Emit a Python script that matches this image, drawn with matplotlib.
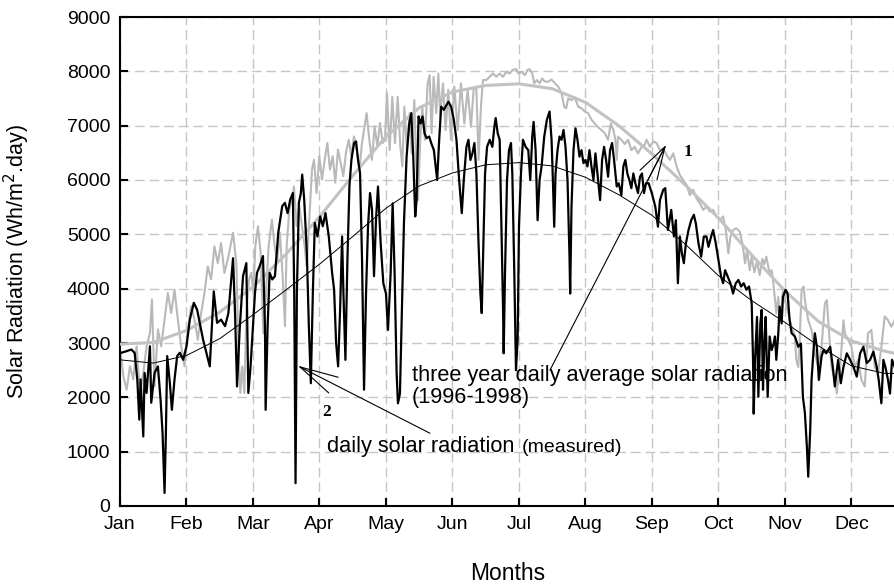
import matplotlib
matplotlib.use("Agg")
import matplotlib.pyplot as plt

plt.rcParams['font.family'] = ['Liberation Sans', 'DejaVu Sans']

months = ["Jan", "Feb", "Mar", "Apr", "May", "Jun",
          "Jul", "Aug", "Sep", "Oct", "Nov", "Dec"]

# daily solar radiation, measured (position in months from 1 Jan, Wh/m2.day)
measured_pos = [
    0.02, 0.10, 0.17, 0.22, 0.26, 0.29, 0.31, 0.35, 0.37, 0.40, 0.45, 0.47, 0.52, 0.57, 0.61, 0.64,
    0.67, 0.69, 0.71, 0.75, 0.78, 0.82, 0.86, 0.90, 0.95, 1.00, 1.05, 1.11, 1.16, 1.25, 1.35, 1.41,
    1.46, 1.52, 1.58, 1.63, 1.70, 1.73, 1.76, 1.80, 1.85, 1.90, 1.93, 1.96, 2.00, 2.03, 2.06, 2.10,
    2.15, 2.18, 2.19, 2.22, 2.25, 2.29, 2.33, 2.38, 2.44, 2.48, 2.52, 2.56, 2.60, 2.62, 2.64, 2.66,
    2.69, 2.72, 2.74, 2.77, 2.81, 2.84, 2.87, 2.90, 2.93, 2.97, 3.01, 3.05, 3.09, 3.14, 3.19, 3.22,
    3.25, 3.28, 3.31, 3.34, 3.36, 3.39, 3.42, 3.45, 3.48, 3.52, 3.55, 3.58, 3.61, 3.64, 3.67, 3.70,
    3.73, 3.76, 3.79, 3.82, 3.85, 3.88, 3.92, 3.96, 4.00, 4.03, 4.07, 4.10, 4.13, 4.16, 4.18, 4.21,
    4.24, 4.27, 4.31, 4.35, 4.38, 4.41, 4.44, 4.46, 4.49, 4.52, 4.55, 4.58, 4.61, 4.65, 4.68, 4.72,
    4.77, 4.80, 4.83, 4.87, 4.91, 4.94, 4.98, 5.02, 5.06, 5.10, 5.14, 5.17, 5.21, 5.24, 5.27, 5.30,
    5.33, 5.36, 5.39, 5.42, 5.44, 5.46, 5.49, 5.52, 5.56, 5.60, 5.63, 5.65, 5.68, 5.71, 5.73, 5.76,
    5.77, 5.79, 5.82, 5.85, 5.88, 5.90, 5.93, 5.955, 5.98, 6.00, 6.03, 6.06, 6.10, 6.14, 6.17, 6.20,
    6.22, 6.25, 6.28, 6.31, 6.34, 6.38, 6.42, 6.46, 6.49, 6.51, 6.53, 6.55, 6.58, 6.61, 6.64, 6.67,
    6.70, 6.73, 6.76, 6.77, 6.79, 6.82, 6.85, 6.88, 6.91, 6.94, 6.97, 7.00, 7.03, 7.06, 7.09, 7.12,
    7.15, 7.19, 7.22, 7.25, 7.28, 7.31, 7.34, 7.37, 7.40, 7.43, 7.47, 7.50, 7.54, 7.57, 7.60, 7.63,
    7.66, 7.69, 7.72, 7.75, 7.79, 7.82, 7.85, 7.88, 7.91, 7.95, 8.00, 8.05, 8.09, 8.12, 8.17, 8.20,
    8.24, 8.29, 8.33, 8.36, 8.39, 8.42, 8.45, 8.48, 8.51, 8.55, 8.59, 8.63, 8.66, 8.70, 8.74, 8.78,
    8.82, 8.85, 8.89, 8.92, 8.96, 9.00, 9.04, 9.07, 9.10, 9.14, 9.18, 9.22, 9.26, 9.30, 9.34, 9.38,
    9.42, 9.46, 9.50, 9.52, 9.53, 9.55, 9.58, 9.60, 9.63, 9.65, 9.67, 9.69, 9.71, 9.74, 9.77, 9.80,
    9.83, 9.85, 9.87, 9.90, 9.92, 9.95, 9.97, 10.01, 10.04, 10.07, 10.10, 10.15, 10.20, 10.24, 10.27, 10.30,
    10.33, 10.35, 10.38, 10.40, 10.43, 10.45, 10.48, 10.51, 10.55, 10.58, 10.62, 10.68, 10.72, 10.75, 10.80, 10.84,
    10.88, 10.93, 10.98, 11.03, 11.08, 11.13, 11.18, 11.23, 11.28, 11.33, 11.38, 11.41, 11.45, 11.48, 11.51, 11.55,
    11.58, 11.61, 11.65,
]
measured_wh = [
    2820, 2850, 2880, 2820, 2330, 1590, 2330, 1280, 2450, 2080, 2940, 1900, 2450, 2570, 1960, 1340,
    240, 1340, 2760, 2260, 1770, 2330, 2760, 2820, 2690, 2940, 3430, 3740, 3610, 3060, 2570, 3950,
    3370, 3430, 3310, 3550, 4560, 3550, 2200, 3250, 4230, 4470, 2080, 2510, 3310, 3920, 4290, 4410,
    4600, 3310, 1770, 3310, 4290, 4170, 4230, 5030, 5520, 5580, 5390, 5640, 5760, 3920, 420, 3920,
    5580, 5760, 6100, 5640, 4660, 3310, 2260, 3920, 5210, 4960, 5330, 5150, 5390, 4960, 4290, 3980,
    3000, 2570, 3610, 4960, 3920, 2690, 4530, 5880, 6370, 6680, 6710, 6370, 6130, 4530, 2140, 3920,
    5150, 5760, 5450, 4230, 5270, 5880, 4840, 4100, 3910, 3240, 4280, 5570, 4280, 2440, 1890, 2070,
    3670, 5200, 6430, 7040, 7230, 6430, 5330, 5630, 7170, 7040, 7170, 6860, 6770, 6800, 6680, 6550,
    6000, 6740, 7350, 7290, 7380, 7440, 7350, 7110, 6740, 6000, 5390, 6000, 6610, 6740, 6370, 6490,
    6680, 6120, 4900, 3910, 3550, 4590, 6120, 6610, 6740, 6610, 6980, 7140, 6860, 6740, 5510, 3670,
    2810, 4280, 6000, 6550, 6680, 6120, 4280, 2500, 3060, 5140, 6120, 6740, 6610, 6550, 6000, 6800,
    7070, 6550, 5260, 6000, 6250, 6800, 7110, 7260, 6740, 6000, 5140, 6120, 6550, 6800, 6740, 6920,
    6610, 6000, 4590, 3910, 5510, 6550, 6950, 6740, 6430, 6550, 6310, 6370, 6250, 6550, 6250, 6000,
    6490, 6000, 5630, 6370, 6610, 6370, 6060, 6550, 6680, 6370, 5880, 5940, 5720, 6250, 6370, 6120,
    6000, 5850, 6120, 5940, 5760, 6060, 6120, 5760, 5940, 5940, 5750, 5510, 5140, 5630, 5820, 5850,
    5080, 5450, 4960, 5260, 4100, 4960, 4650, 4470, 4830, 5080, 5260, 5360, 5200, 4830, 4590, 4960,
    4960, 4770, 4960, 5080, 4830, 4530, 4220, 4100, 4340, 4220, 4100, 3910, 4100, 4160, 4040, 4100,
    3980, 4040, 3730, 2690, 1700, 2690, 3480, 2010, 3360, 3610, 2140, 2990, 3480, 2010, 3120, 2870,
    2990, 3120, 2690, 3180, 3670, 3360, 3850, 3980, 3910, 3420, 3180, 3120, 2930, 2990, 2010, 1710,
    1090, 540, 1400, 2320, 2870, 3180, 2930, 2320, 2750, 2870, 2810, 2930, 2560, 2200, 2690, 2260,
    2560, 2810, 2690, 2560, 2380, 2810, 2930, 2630, 2690, 2840, 2560, 2320, 1890, 2690, 2560, 2320,
    2070, 2690, 2560,
]

# three year (1996-1998) daily average solar radiation
average_pos = [
    0.01, 0.05, 0.10, 0.15, 0.20, 0.25, 0.30, 0.35, 0.40, 0.45, 0.48, 0.52, 0.57, 0.62, 0.67, 0.72,
    0.77, 0.82, 0.87, 0.92, 0.97, 1.02, 1.07, 1.12, 1.17, 1.22, 1.27, 1.32, 1.37, 1.42, 1.47, 1.52,
    1.57, 1.62, 1.70, 1.75, 1.78, 1.81, 1.84, 1.87, 1.90, 1.94, 1.975, 2.005, 2.035, 2.075, 2.115, 2.155,
    2.195, 2.235, 2.285, 2.325, 2.365, 2.405, 2.446, 2.481, 2.506, 2.546, 2.586, 2.616, 2.656, 2.697, 2.737, 2.777,
    2.807, 2.847, 2.887, 2.917, 2.957, 2.997, 3.038, 3.078, 3.118, 3.158, 3.198, 3.238, 3.278, 3.318, 3.358, 3.398,
    3.439, 3.479, 3.519, 3.559, 3.599, 3.639, 3.679, 3.709, 3.749, 3.789, 3.829, 3.87, 3.91, 3.95, 3.985, 4.015,
    4.055, 4.095, 4.135, 4.176, 4.216, 4.246, 4.276, 4.316, 4.356, 4.386, 4.426, 4.456, 4.481, 4.516, 4.546, 4.586,
    4.626, 4.656, 4.686, 4.716, 4.756, 4.787, 4.817, 4.857, 4.897, 4.937, 4.977, 5.028, 5.078, 5.128, 5.178, 5.228,
    5.278, 5.318, 5.358, 5.393, 5.428, 5.459, 5.509, 5.559, 5.609, 5.659, 5.709, 5.759, 5.809, 5.859, 5.91, 5.96,
    5.99, 6.04, 6.09, 6.13, 6.16, 6.20, 6.23, 6.27, 6.31, 6.35, 6.39, 6.44, 6.49, 6.54, 6.59, 6.64,
    6.68, 6.71, 6.74, 6.79, 6.84, 6.89, 6.94, 6.99, 7.04, 7.09, 7.14, 7.19, 7.24, 7.29, 7.34, 7.38,
    7.42, 7.45, 7.47, 7.49, 7.54, 7.59, 7.64, 7.69, 7.74, 7.79, 7.84, 7.89, 7.92, 7.97, 8.02, 8.07,
    8.12, 8.17, 8.22, 8.27, 8.32, 8.37, 8.42, 8.47, 8.52, 8.57, 8.62, 8.67, 8.72, 8.77, 8.82, 8.87,
    8.92, 8.97, 9.02, 9.07, 9.11, 9.15, 9.18, 9.22, 9.27, 9.32, 9.36, 9.40, 9.43, 9.47, 9.50, 9.54,
    9.58, 9.62, 9.66, 9.69, 9.72, 9.77, 9.80, 9.82, 9.85, 9.87, 9.90, 9.92, 9.95, 9.97, 10.00, 10.05,
    10.10, 10.15, 10.17, 10.20, 10.22, 10.25, 10.28, 10.30, 10.35, 10.40, 10.45, 10.50, 10.55, 10.60, 10.63, 10.65,
    10.70, 10.75, 10.78, 10.80, 10.83, 10.88, 10.90, 10.95, 11.00, 11.05, 11.10, 11.15, 11.20, 11.25, 11.30, 11.35,
    11.40, 11.45, 11.50, 11.55, 11.60, 11.65,
]
average_wh = [
    2820, 2390, 2140, 2570, 2330, 2940, 2080, 2450, 2940, 3180, 3800, 2200, 3250, 2940, 3430, 3920,
    3550, 3980, 3430, 2940, 2570, 3250, 3680, 3430, 3060, 3550, 3920, 4410, 4170, 4780, 4470, 4840,
    4290, 4530, 5030, 4470, 2940, 2080, 2570, 2080, 3550, 4170, 4290, 3920, 4780, 5150, 4660, 3180,
    3920, 4780, 5270, 4780, 4530, 5030, 4230, 3310, 4780, 5450, 5640, 5880, 5150, 5520, 5150, 4780,
    4410, 5270, 6190, 6370, 5760, 6440, 6010, 6370, 6680, 6190, 6440, 5950, 6560, 6310, 6070, 6500,
    6740, 6440, 6800, 6560, 6190, 6680, 6990, 7230, 6740, 6370, 6990, 6620, 7050, 6680, 6740, 7600,
    6550, 7530, 6680, 7530, 6610, 6250, 7350, 6550, 7230, 6490, 7470, 6250, 5630, 6740, 7350, 6740,
    7780, 7930, 6860, 7900, 7230, 7960, 7170, 7780, 6920, 7660, 6740, 7720, 6920, 7780, 7040, 7660,
    6980, 7660, 7720, 6370, 7350, 7840, 7840, 7900, 7960, 7900, 7960, 7900, 7990, 7960, 8030, 8040,
    7960, 7990, 7930, 8030, 8040, 7960, 7780, 7840, 7780, 7870, 7810, 7810, 7850, 7780, 7720, 7600,
    7350, 7320, 7500, 7470, 7520, 7350, 7320, 7260, 7230, 7110, 7040, 6970, 6920, 6860, 6740, 7040,
    6920, 6740, 6370, 6800, 6740, 6660, 6740, 6550, 6610, 6490, 6600, 6650, 6740, 6610, 6710, 6680,
    6550, 6580, 6460, 6370, 6490, 6250, 6090, 6000, 5910, 5720, 5820, 5660, 5570, 5450, 5510, 5420,
    5450, 5330, 5260, 5330, 5080, 4650, 4960, 5080, 5110, 5050, 4830, 4470, 4710, 4340, 4590, 4300,
    4500, 4250, 4550, 4450, 4590, 4280, 4340, 4160, 3790, 3550, 3850, 3420, 3670, 3980, 3790, 3550,
    3300, 3120, 2690, 2560, 2990, 3980, 4040, 3790, 3420, 3240, 2810, 2560, 2930, 3730, 3790, 3420,
    2560, 2320, 2070, 2320, 2560, 3420, 3180, 3060, 2930, 2560, 2690, 2320, 2200, 3180, 3240, 2560,
    2440, 2930, 3490, 3420, 3300, 3420,
]

# fitted annual curves
fit_pos = [0, 0.5, 1, 1.5, 2, 2.5, 3, 3.5, 4, 4.5, 5, 5.5, 6, 6.5, 7, 7.5,
           8, 8.5, 9, 9.5, 10, 10.5, 11, 11.5, 11.65]
measured_fit = [2690, 2630, 2770, 3080, 3520, 3980, 4450, 4960, 5480, 5890, 6130, 6280,
                6320, 6260, 6050, 5730, 5350, 4820, 4240, 3780, 3380, 2950, 2580, 2440, 2440]
average_fit = [2980, 3010, 3230, 3570, 4030, 4640, 5320, 6080, 6800, 7330, 7620, 7740,
               7770, 7680, 7430, 7000, 6480, 5910, 5300, 4620, 3960, 3400, 3040, 2850, 2810]

fig = plt.figure(figsize=(8.95, 5.86), dpi=100)
ax = fig.add_axes([120 / 895, 80 / 586, 775 / 895, 489 / 586])

ax.plot(average_pos, average_wh, color='#b9b9b9', lw=1.5, zorder=2)
ax.plot(fit_pos, average_fit, color='#c2c2c2', lw=2.2, zorder=3)
ax.plot(measured_pos, measured_wh, color='black', lw=1.6, zorder=4)
ax.plot(fit_pos, measured_fit, color='black', lw=0.7, zorder=5)

ax.set_xlim(0, 11.655)
ax.set_ylim(0, 9000)
ax.set_xticks(range(12))
ax.set_xticklabels(months)
ax.set_yticks(range(0, 9001, 1000))

ax.grid(True, color='#c6c6c6', linestyle=(0, (7, 3.5)), linewidth=1.0, zorder=0)
ax.set_axisbelow(True)
ax.tick_params(direction='in', length=6, width=1.5, labelsize=14, pad=7, colors='black')
for side in ('left', 'bottom', 'top'):
    ax.spines[side].set_linewidth(1.5)
ax.spines['right'].set_visible(False)

ax.set_ylabel('Solar Radiation (Wh/m$^2$.day)', fontsize=15.5)
ax.yaxis.set_label_coords(-88 / 775, 0.5)
ax.set_xlabel('Months', fontsize=16.5)
ax.xaxis.set_label_coords(0.5, -(573 - 506) / 489)
ax.xaxis.label.set_va('center')

line_kw = dict(arrowstyle='-', lw=0.8, color='black', shrinkA=0, shrinkB=0)

# pointer "1": fan from the apex to the curves, and to the caption
apex1 = (8.195, 6610)
for target in [(7.82, 6180), (7.94, 6000), (8.075, 6000), (6.466, 2500)]:
    ax.annotate('', xy=target, xytext=apex1, arrowprops=line_kw, zorder=6)
ax.text(8.54, 6515, '1', fontsize=12.5, fontweight='bold', family='Liberation Serif',
        ha='center', va='center', zorder=6)

# pointer "2"
apex2 = (2.707, 2560)
for target in [(3.28, 2370), (3.14, 2080), (4.66, 1340)]:
    ax.annotate('', xy=target, xytext=apex2, arrowprops=line_kw, zorder=6)
ax.text(3.11, 1730, '2', fontsize=12.5, fontweight='bold', family='Liberation Serif',
        ha='center', va='center', zorder=6)

ax.text(4.39, 2393, 'three year daily average solar radiation', fontsize=15.7,
        ha='left', va='center', zorder=6)
ax.text(4.39, 2006, '(1996-1998)', fontsize=15.7, ha='left', va='center', zorder=6)
ax.text(3.11, 1086, 'daily solar radiation', fontsize=15.7, ha='left', va='center', zorder=6)
ax.text(6.045, 1070, '(measured)', fontsize=14, ha='left', va='center', zorder=6)

fig.savefig('out.png', dpi=100)
